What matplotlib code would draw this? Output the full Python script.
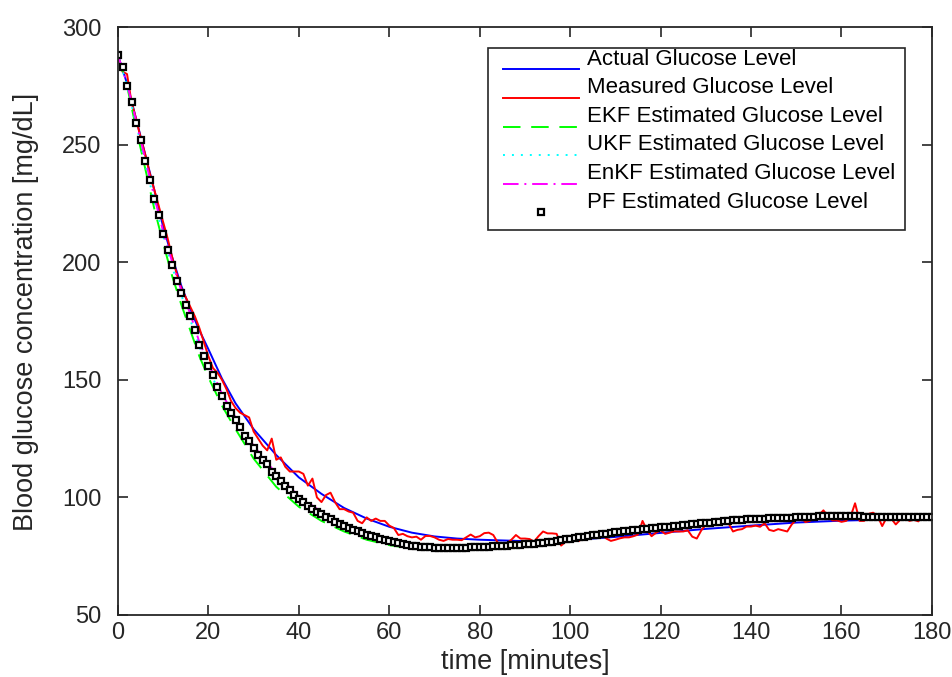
import numpy as np
import matplotlib
matplotlib.use("Agg")
import matplotlib.pyplot as plt
from matplotlib.patches import Rectangle
from matplotlib.lines import Line2D
from matplotlib.legend_handler import HandlerLine2D
from matplotlib.transforms import Affine2D

# ---------------------------------------------------------------------------
# knot times (minutes) for the smooth curves
t_knots = [0, 2, 4, 6, 8, 10, 12, 14, 16, 18, 20, 23, 26, 30, 35, 40, 45, 50,
           55, 60, 65, 70, 75, 80, 90, 100, 110, 120, 130, 140, 150, 160, 170, 180]

actual = [288, 276, 261, 246, 231, 215, 202, 190, 180, 171, 163, 150.5, 140,
          129, 118, 108.5, 101.5, 95.5, 91, 87.5, 85, 83.4, 82.5, 82, 81.4,
          81.8, 83.2, 84.9, 86.6, 88, 89.3, 90.1, 90.6, 90.8]
ekf = [288, 275, 257, 240, 223, 208, 194, 182, 171, 160, 151, 139, 129, 116.5,
       104.5, 96, 90, 85.5, 82, 79.7, 78.3, 77.8, 77.8, 78.3, 79.8, 82.3, 85,
       87.2, 89.1, 90.7, 91.5, 92.1, 91.5, 91.5]
ukf = [288, 275, 259, 242, 226, 211, 198, 186, 175.5, 164, 155, 142, 132, 120,
       108, 98.8, 92.4, 87.5, 83.8, 81.1, 79.3, 78.5, 78.4, 78.8, 79.9, 82.4, 85,
       87.2, 89.1, 90.7, 91.5, 92.1, 91.5, 91.5]
enkf = [288, 276, 260, 244, 228, 213, 200, 188, 178, 166, 157, 144, 134, 122,
        110, 100.5, 93.8, 88.7, 84.8, 81.8, 79.8, 78.9, 78.7, 79, 80.1, 82.6,
        85.2, 87.3, 89.2, 90.8, 91.6, 92.1, 91.6, 91.5]

# per-minute series (t = 0..180)
measured = [
    287, 281, 280, 268, 261, 253, 246, 238, 231, 224,
    217, 210, 202, 195, 189, 185, 181, 177, 172, 166,
    160, 155, 153, 150, 146, 141, 138, 136, 135, 134,
    128, 125, 122, 120, 125, 116, 117, 113, 111, 111,
    111, 110, 105, 108, 100, 98, 101, 102, 98, 95,
    95, 94, 93.5, 90, 89, 91.5, 90, 91, 90, 90,
    88, 87, 84, 84.5, 83.5, 83, 83.3, 82, 83.6, 83.6,
    83, 82, 81.5, 82.3, 82, 82, 81.8, 83, 84.2, 83,
    83.5, 84.8, 85, 84, 80.7, 80.5, 80.5, 82, 84, 82.5,
    82.5, 82.3, 81.2, 83.5, 85.5, 84.7, 84.7, 84.5, 79.5, 81.2,
    81.5, 81.9, 81.5, 84.2, 84.5, 84.8, 83.5, 84.2, 82.5, 81.5,
    82, 82.6, 83, 83, 83.5, 84.2, 90, 86, 83.5, 85,
    86, 84.5, 85, 85.6, 85.5, 85.5, 86, 83.3, 82.5, 86,
    88.4, 88.7, 88.4, 88.5, 88.8, 89, 85.5, 86.2, 86.5, 87.6,
    87.6, 88, 87.5, 89, 86.2, 85.7, 86.5, 86, 85.5, 88.5,
    90.5, 91.5, 89.5, 90, 91, 92.5, 94.5, 92, 90.2, 90.2,
    89.6, 90, 91.8, 97.5, 90, 90, 93, 93.5, 92, 87.8,
    91.5, 91, 88.5, 90.5, 93, 90, 90.5, 89.8, 92.5, 91.2, 91,
]
pf = [
    288, 283, 275, 268, 259, 252, 243, 235, 227, 220,
    212, 205, 199, 192, 187, 182, 177, 171, 165, 160,
    156, 152, 147, 143, 139, 136, 133, 130, 126, 124,
    121, 118, 116, 114, 111, 109, 107, 105, 103, 101,
    99.5, 98, 96.5, 95.2, 94, 93, 91.8, 90.6, 89.6, 88.8,
    88, 87, 86.2, 85.5, 84.8, 84.2, 83.5, 83, 82.4, 82,
    81.4, 81, 80.6, 80.2, 79.8, 79.5, 79.2, 79, 78.8, 78.7,
    78.6, 78.5, 78.5, 78.5, 78.5, 78.5, 78.5, 78.6, 78.7, 78.8,
    78.9, 79, 79.1, 79.2, 79.3, 79.4, 79.5, 79.6, 79.7, 79.9,
    80, 80.1, 80.3, 80.5, 80.7, 80.9, 81.2, 81.5, 81.8, 82.1,
    82.5, 82.8, 83.1, 83.3, 83.6, 83.8, 84.1, 84.4, 84.6, 84.9,
    85.1, 85.4, 85.6, 85.8, 86, 86.2, 86.5, 86.7, 86.9, 87.1,
    87.2, 87.4, 87.5, 87.7, 87.9, 88.1, 88.3, 88.5, 88.7, 88.9,
    89.1, 89.3, 89.5, 89.7, 89.9, 90, 90.2, 90.3, 90.5, 90.6,
    90.7, 90.8, 90.9, 91, 91.1, 91.2, 91.2, 91.3, 91.4, 91.4,
    91.5, 91.6, 91.6, 91.7, 91.8, 91.9, 92, 92, 92.1, 92.1,
    92.1, 92.1, 92.1, 92, 92, 91.8, 91.7, 91.6, 91.6, 91.5,
    91.5, 91.5, 91.5, 91.5, 91.5, 91.5, 91.5, 91.5, 91.5, 91.5, 91.5,
]
t_min = np.arange(len(measured))

labels = ["Actual Glucose Level", "Measured Glucose Level",
          "EKF Estimated Glucose Level", "UKF Estimated Glucose Level",
          "EnKF Estimated Glucose Level", "PF Estimated Glucose Level"]

x_ticks = list(range(0, 181, 20))
y_ticks = list(range(50, 301, 50))


class LoweredLine(HandlerLine2D):
    """Legend sample drawn a little below the label (MATLAB look)."""

    def create_artists(self, legend, orig_handle, xdescent, ydescent,
                       width, height, fontsize, trans):
        arts = super().create_artists(legend, orig_handle, xdescent, ydescent,
                                      width, height, fontsize, trans)
        shift = Affine2D().translate(0, -0.56 * fontsize)
        for a in arts:
            a.set_transform(shift + trans)
        return arts


# ---------------------------------------------------------------------------
plt.rcParams["font.family"] = ["Liberation Sans", "DejaVu Sans"]
dark = "#262626"

fig = plt.figure(figsize=(9.53, 6.77), dpi=100)
ax = fig.add_axes([0.1238, 0.0916, 0.8541, 0.8685])

ax.plot(t_knots, actual, color="#0000ff", lw=1.4, label=labels[0])
ax.plot(t_min, measured, color="#ff0000", lw=1.4, label=labels[1])
ax.plot(t_knots, ekf, color="#00ff00", lw=1.4, dashes=(9, 5.5), label=labels[2])
ax.plot(t_knots, ukf, color="#00ffff", lw=1.4, dashes=(1, 3.6), label=labels[3])
ax.plot(t_knots, enkf, color="#ff00ff", lw=1.4, dashes=(8, 3, 1, 3),
        label=labels[4])
ax.plot(t_min, pf, ls="none", marker="s", ms=4.6, mfc="white", mec="black",
        mew=1.6, label=labels[5])

ax.set_xlim(0, 180)
ax.set_ylim(50, 300)
ax.set_xticks(x_ticks)
ax.set_yticks(y_ticks)
ax.tick_params(direction="in", length=7, width=1.2, colors=dark,
               top=True, right=True, labelsize=17)
ax.tick_params(axis="x", pad=5)
ax.tick_params(axis="y", pad=12)
for sp in ax.spines.values():
    sp.set_color(dark)
    sp.set_linewidth(1.3)

ax.set_xlabel("time [minutes]", fontsize=19.5, color=dark, labelpad=4)
ax.set_ylabel("Blood glucose concentration [mg/dL]", fontsize=19.5, color=dark)
ax.yaxis.set_label_coords(-0.097, 0.515)

leg = ax.legend(loc="upper left", bbox_to_anchor=(0.473, 0.963), fontsize=16,
                frameon=False, borderpad=0, labelspacing=0.34,
                handlelength=3.4, handletextpad=0.4, borderaxespad=0,
                numpoints=1, handler_map={Line2D: LoweredLine()})
# legend box drawn separately so the lowered samples fit inside it
ax.add_patch(Rectangle((0.4545, 0.6548), 0.5123, 0.3095, transform=ax.transAxes,
                       fill=True, facecolor="white", edgecolor=dark, lw=1.2,
                       zorder=4.9))
leg.set_zorder(5)

fig.savefig("out.png", dpi=100)
